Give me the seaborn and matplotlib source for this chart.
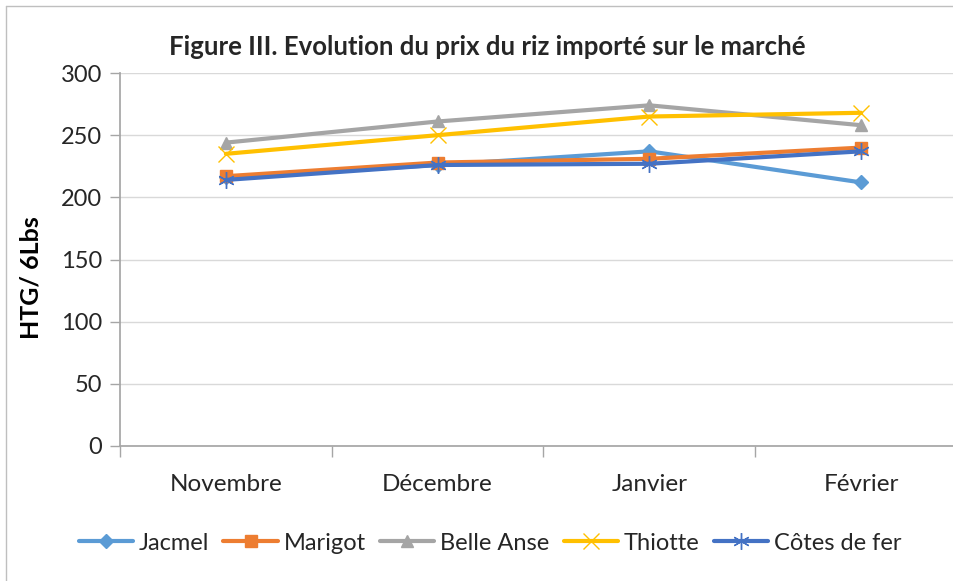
import matplotlib
matplotlib.use("Agg")
import matplotlib.pyplot as plt
import seaborn as sns
import pandas as pd
from matplotlib.lines import Line2D

months = ["Novembre", "Décembre", "Janvier", "Février"]
jacmel = [216, 226, 237, 212]
marigot = [217, 228, 231, 240]
belle_anse = [244, 261, 274, 258]
thiotte = [235, 250, 265, 268]
cotes_de_fer = [214, 226, 227, 237]

series = {
    "Jacmel": jacmel,
    "Marigot": marigot,
    "Belle Anse": belle_anse,
    "Thiotte": thiotte,
    "Côtes de fer": cotes_de_fer,
}

sns.set_theme(style="white")
plt.rcParams["font.family"] = ["Lato", "DejaVu Sans"]

palette = {
    "Jacmel": "#5B9BD5",
    "Marigot": "#ED7D31",
    "Belle Anse": "#A5A5A5",
    "Thiotte": "#FFC000",
    "Côtes de fer": "#4472C4",
}
markers = {
    "Jacmel": "D",
    "Marigot": "s",
    "Belle Anse": "^",
    "Thiotte": "x",
    "Côtes de fer": (6, 2, 0),
}
msizes = {"Jacmel": 7, "Marigot": 8, "Belle Anse": 8.5, "Thiotte": 11,
          "Côtes de fer": 12}
mews = {"Jacmel": 1, "Marigot": 1, "Belle Anse": 1, "Thiotte": 1,
        "Côtes de fer": 1}

fig = plt.figure(figsize=(9.54, 5.81), dpi=100)
ax = fig.add_axes([120 / 954, 1 - 446 / 581, 847 / 954, 373 / 581])

for name, vals in series.items():
    d = pd.DataFrame({"Mois": range(len(vals)), "Prix": vals})
    sns.lineplot(data=d, x="Mois", y="Prix", color=palette[name],
                 marker=markers[name], linewidth=3, markersize=msizes[name],
                 markeredgewidth=mews[name], markerfacecolor=palette[name],
                 markeredgecolor=palette[name], ax=ax, legend=False)

ax.set_xlim(-0.5, 3.5)
ax.set_ylim(0, 300)
ax.set_yticks(range(0, 301, 50))
ax.set_xticks(range(4))
ax.set_xticklabels(months)
ax.set_xticks([-0.5, 0.5, 1.5, 2.5, 3.5], minor=True)
ax.grid(axis="y", color="#D9D9D9", linewidth=1)
ax.grid(axis="x", visible=False)
for s in ["top", "right"]:
    ax.spines[s].set_visible(False)
ax.spines["left"].set_color("#A6A6A6")
ax.spines["bottom"].set_color("#A6A6A6")
ax.tick_params(axis="y", which="major", length=7, width=1, color="#A6A6A6",
               labelsize=17, labelcolor="#262626", pad=6, left=True)
ax.tick_params(axis="x", which="major", length=0, labelsize=17.5,
               labelcolor="#262626", pad=20)
ax.tick_params(axis="x", which="minor", length=8, width=1, color="#A6A6A6",
               bottom=True)
ax.set_xlabel("")
ax.set_ylabel("")
fig.text(31 / 954, 1 - 278 / 581, "HTG/ 6Lbs", rotation=90, ha="center",
         va="center", fontsize=18, fontweight="bold", color="black")

fig.text(487 / 954, 1 - 47 / 581,
         "Figure III. Evolution du prix du riz importé sur le marché",
         ha="center", va="center", fontsize=18.5, fontweight="bold")

handles = [Line2D([0], [0], color=palette[n], marker=markers[n], lw=3,
                  markersize=msizes[n], markeredgewidth=mews[n],
                  markerfacecolor=palette[n],
                  markeredgecolor=palette[n]) for n in series]
fig.legend(handles, list(series.keys()), loc="center",
           bbox_to_anchor=(490 / 954, 1 - 543 / 581), ncol=5, frameon=False,
           fontsize=17, handlelength=2.3, columnspacing=0.6,
           handletextpad=0.25)

fig.add_artist(Line2D([6 / 954, 6 / 954], [0, 1 - 6 / 581],
                      transform=fig.transFigure, color="#BFBFBF", lw=1))
fig.add_artist(Line2D([6 / 954, 1], [1 - 6 / 581, 1 - 6 / 581],
                      transform=fig.transFigure, color="#BFBFBF", lw=1))

fig.savefig("out.png", dpi=100)
